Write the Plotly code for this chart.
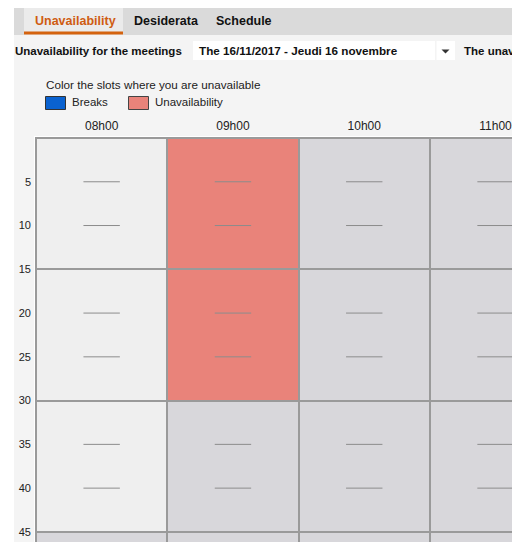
import plotly.graph_objects as go

# ---- data ----
hour_labels = ["08h00", "09h00", "10h00", "11h00"]
hour_edges = [8, 9, 10, 11, 12]
quarter_edges = [0, 15, 30, 45, 60]
# 0 = free, 1 = unavailability, 2 = not selectable (gray)
slot_status = [
    [0, 1, 2, 2],
    [0, 1, 2, 2],
    [0, 2, 2, 2],
    [2, 2, 2, 2],
]
minute_ticks = [5, 10, 15, 20, 25, 30, 35, 40, 45]
dash_minutes = [5, 10, 20, 25, 35, 40, 50, 55]
tabs = ["Unavailability", "Desiderata", "Schedule"]
legend_items = ["Breaks", "Unavailability"]

# page body has an 8px margin: figure is sized to fit the 520x542 window
OFF = 8
W, H = 520 - OFF, 542 - OFF
FONT = "Liberation Sans, Arial, sans-serif"
C_FREE, C_UNAV, C_GRAY, C_LINE = "#efefef", "#e9837a", "#d8d7db", "#9a9a9a"

def px(x):
    return (x - OFF) / W

def py(y):
    return 1 - (y - OFF) / H

hour_px = 131.3
min_px = hour_px / 15
plot_left, plot_top = 35, 137
x0 = hour_edges[0] - 1.0 / hour_px
xr = [x0, x0 + (520 - plot_left) / hour_px]
y0 = quarter_edges[0] - 1.0 / min_px
yr = [y0 + (542 - plot_top) / min_px, y0]

fig = go.Figure()
fig.add_trace(go.Heatmap(
    x=hour_edges, y=quarter_edges, z=slot_status,
    zmin=0, zmax=2,
    colorscale=[[0, C_FREE], [0.3333, C_FREE], [0.3334, C_UNAV], [0.6666, C_UNAV],
                [0.6667, C_GRAY], [1, C_GRAY]],
    showscale=False, xgap=2, ygap=2, hoverinfo="skip",
))

centers = [(hour_edges[i] + hour_edges[i + 1]) / 2 for i in range(len(hour_labels))]
dx, dy = [], []
for c in centers:
    for m in dash_minutes:
        dx.append(c)
        dy.append(m)
fig.add_trace(go.Scatter(
    x=dx, y=dy, mode="markers", hoverinfo="skip", showlegend=False,
    marker=dict(symbol="line-ew", size=26, line=dict(width=1, color="#8c8c8c")),
))

fig.update_xaxes(
    domain=[px(plot_left), 1], range=xr, side="top",
    tickvals=centers, ticktext=hour_labels, showgrid=False, zeroline=False,
    ticks="", ticklabelstandoff=4, showline=False,
    tickfont=dict(family=FONT, size=12, color="#222"), automargin=False,
)
fig.update_yaxes(
    domain=[0, py(plot_top)], range=yr,
    tickvals=minute_ticks, ticktext=[str(v) for v in minute_ticks],
    showgrid=False, zeroline=False, ticks="", ticklabelstandoff=3,
    tickfont=dict(family=FONT, size=11, color="#222"), automargin=False,
)

shapes = []
def rect(xa, ya, xb, yb, fill, line=None, lw=0):
    shapes.append(dict(type="rect", xref="paper", yref="paper",
                       x0=px(xa), x1=px(xb), y0=py(yb), y1=py(ya),
                       fillcolor=fill, line=dict(width=lw, color=line or fill), layer="below"))

rect(14, 35, 520, plot_top - 1, "#f4f4f4")          # panel (header part)
rect(14, plot_top - 1.5, plot_left - 1, 542, "#f4f4f4")  # panel (left strip)
rect(14, 6, 520, 35, "#dadada")            # tab bar
rect(24, 8, 123, 35, "#ebebeb")            # active tab
rect(24, 31.5, 123, 34.5, "#d4630f")       # active underline
rect(193, 41, 435, 60, "#ffffff")          # dropdown
rect(436.5, 41, 455, 60, "#ffffff")        # dropdown arrow box
rect(45.5, 96.5, 65.5, 109.5, "#0a62d0", "#333333", 1)
rect(128.5, 96.5, 148.5, 109.5, C_UNAV, "#444444", 1)
shapes.append(dict(type="path", xref="paper", yref="paper",
                   path=f"M {px(441.5)} {py(49.5)} L {px(449.5)} {py(49.5)} L {px(445.5)} {py(53.5)} Z",
                   fillcolor="#333", line=dict(width=0)))

ann = []
def text(x, y, s, size=11, bold=False, color="#111", anchor="left"):
    ann.append(dict(xref="paper", yref="paper", x=px(x), y=py(y), text=f"<b>{s}</b>" if bold else s,
                    showarrow=False, xanchor=anchor, yanchor="middle",
                    font=dict(family=FONT, size=size, color=color)))

text(33, 21, tabs[0], 12.5, True, "#cf5c12")
text(132, 21, tabs[1], 12.5, True)
text(214, 21, tabs[2], 12.5, True)
text(13, 51, "Unavailability for the meetings", 11.5, True)
text(197, 51, "The 16/11/2017 - Jeudi 16 novembre", 11.7, True)
text(462, 51, "The unava", 11.5, True)
text(44, 84, "Color the slots where you are unavailable", 11.7, False, "#222")
text(70, 102.5, legend_items[0], 11.5, False, "#222")
text(153, 102.5, legend_items[1], 11.5, False, "#222")

fig.update_layout(
    width=W, height=H, margin=dict(l=0, r=0, t=0, b=0),
    paper_bgcolor="#ffffff", plot_bgcolor=C_LINE,
    shapes=shapes, annotations=ann, showlegend=False,
)
fig.write_html("out.html")
